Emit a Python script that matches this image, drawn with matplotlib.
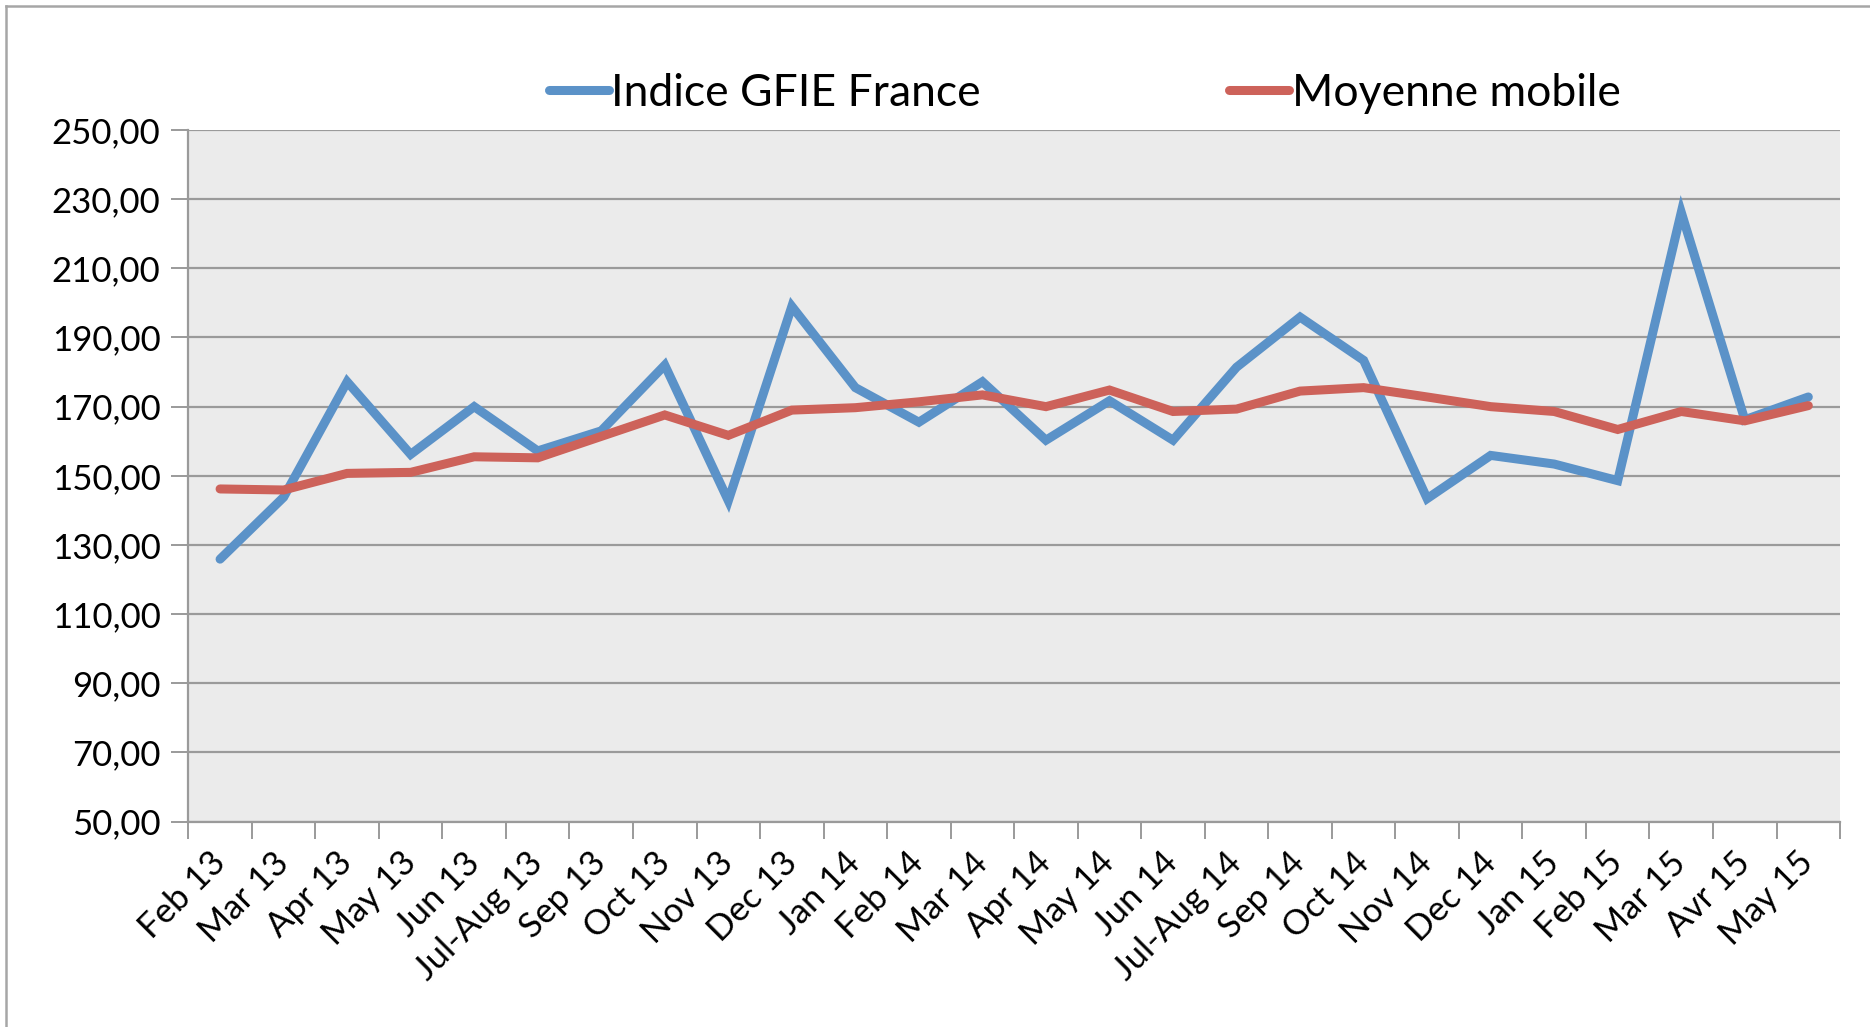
import matplotlib
matplotlib.use("Agg")
import matplotlib.pyplot as plt
from matplotlib.lines import Line2D
from matplotlib.ticker import FixedLocator, FuncFormatter
import numpy as np

plt.rcParams["font.family"] = ["Lato", "DejaVu Sans"]

months = ["Feb 13", "Mar 13", "Apr 13", "May 13", "Jun 13", "Jul-Aug 13",
          "Sep 13", "Oct 13", "Nov 13", "Dec 13", "Jan 14", "Feb 14",
          "Mar 14", "Apr 14", "May 14", "Jun 14", "Jul-Aug 14", "Sep 14",
          "Oct 14", "Nov 14", "Dec 14", "Jan 15", "Feb 15", "Mar 15",
          "Avr 15", "May 15"]
indice_gfie = [125.9, 143.8, 177.2, 156.2, 170.0, 157.2, 163.0, 182.0,
               142.8, 199.0, 175.5, 165.5, 177.2, 160.3, 171.7, 160.3,
               181.4, 195.9, 183.4, 143.4, 155.9, 153.4, 148.6, 226.2,
               166.2, 172.8]
moyenne_mobile = [146.2, 145.9, 150.7, 151.0, 155.5, 155.2, 161.4, 167.6,
                  161.7, 169.0, 169.7, 171.4, 173.4, 170.0, 174.8, 168.6,
                  169.3, 174.5, 175.5, 172.8, 170.0, 168.6, 163.4, 168.6,
                  165.9, 170.3]
y_ticks = [50, 70, 90, 110, 130, 150, 170, 190, 210, 230, 250]

BLUE = "#5b92c8"
RED = "#cd625a"
GRID = "#9a9a9a"

fig = plt.figure(figsize=(18.7, 10.27), dpi=100)
ax = fig.add_axes([0.1007, 0.200, 0.8833, 0.6734])
ax.set_facecolor("#ebebeb")

x = np.arange(len(months))
ax.plot(x, indice_gfie, color=BLUE, lw=6.5, solid_joinstyle="miter",
        solid_capstyle="round", label="Indice GFIE France", zorder=3)
ax.plot(x, moyenne_mobile, color=RED, lw=6.5, solid_joinstyle="miter",
        solid_capstyle="round", label="Moyenne mobile", zorder=3)

ax.set_xlim(-0.5, len(months) - 0.5)
ax.set_ylim(50, 250)
ax.set_yticks(y_ticks)
ax.yaxis.set_major_formatter(FuncFormatter(lambda v, _: f"{v:.2f}".replace(".", ",")))
ax.grid(axis="y", color=GRID, lw=1.6, zorder=1)
ax.set_axisbelow(True)

ax.set_xticks(x)
ax.set_xticklabels(months, rotation=45, ha="right", va="center",
                   rotation_mode="anchor")
ax.xaxis.set_minor_locator(FixedLocator(np.arange(len(months) + 1) - 0.5))
ax.tick_params(axis="x", which="major", length=0, pad=26, labelsize=25)
ax.tick_params(axis="x", which="minor", length=12, width=1.4, color=GRID)
ax.tick_params(axis="y", length=12, width=1.4, color=GRID, labelsize=25, pad=8)

for s in ["top", "right"]:
    ax.spines[s].set_visible(False)
for s in ["left", "bottom"]:
    ax.spines[s].set_color(GRID)
    ax.spines[s].set_linewidth(1.6)

# outer chart border (left and top edges visible)
fig.add_artist(Line2D([6 / 1870, 6 / 1870], [0, 1 - 6 / 1027],
                      transform=fig.transFigure, color="#a6a6a6", lw=1.8))
fig.add_artist(Line2D([6 / 1870, 1], [1 - 6 / 1027, 1 - 6 / 1027],
                      transform=fig.transFigure, color="#a6a6a6", lw=1.8))

fig.legend(loc="center", bbox_to_anchor=(0.580, 0.909), ncol=2, frameon=False,
           fontsize=32, handlelength=1.35, handletextpad=0.05,
           columnspacing=5.6)

fig.savefig("out.png", dpi=100)
